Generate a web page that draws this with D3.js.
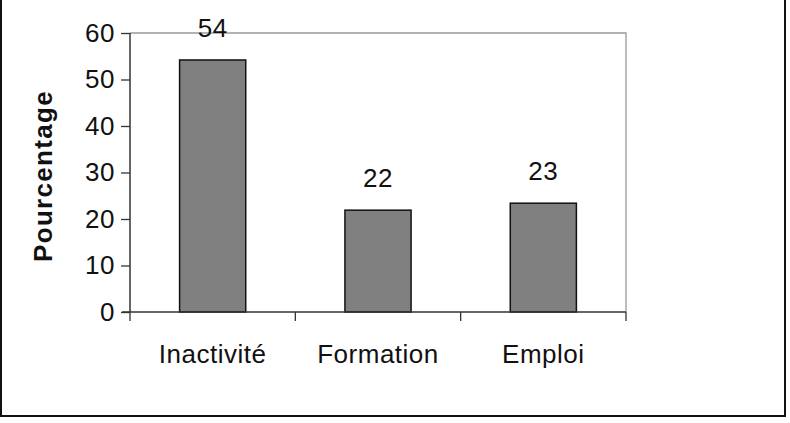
<!DOCTYPE html>
<html>
<head>
<meta charset="utf-8">
<script src="https://cdn.jsdelivr.net/npm/d3@7"></script>
<style>
  body { margin: 0; background: #fff; }
  text { font-family: "Liberation Sans", Arial, sans-serif; }
</style>
</head>
<body>
<div id="chart-area"></div>
<script>
// data
var categories = ["Inactivité", "Formation", "Emploi"];
var values = [54.2, 21.9, 23.4];
var labels = ["54", "22", "23"];
var yTicks = [0, 10, 20, 30, 40, 50, 60];

var margin = {top: 33, right: 164, bottom: 111, left: 130};
var width = 790 - margin.left - margin.right,
    height = 423 - margin.top - margin.bottom;

var svg = d3.select("#chart-area")
    .append("svg")
    .attr("width", 790)
    .attr("height", 423);

// outer frame
svg.append("rect")
    .attr("x", 1)
    .attr("y", -4)
    .attr("width", 784)
    .attr("height", 420)
    .attr("fill", "none")
    .attr("stroke", "#111")
    .attr("stroke-width", 2);

var g = svg.append("g")
    .attr("transform", "translate(" + margin.left + "," + margin.top + ")");

var x = d3.scaleBand()
    .domain(categories)
    .range([0, width])
    .paddingInner(0.6)
    .paddingOuter(0.3);

var y = d3.scaleLinear()
    .domain([0, 60])
    .range([height, 0]);

// plot frame top / right
g.append("path")
    .attr("d", "M0,0H" + width + "V" + height)
    .attr("fill", "none")
    .attr("stroke", "#9a9a9a")
    .attr("stroke-width", 1.3);

// bars
g.selectAll(".bar")
    .data(values)
    .enter()
    .append("rect")
    .attr("class", "bar")
    .attr("x", function(d, i){ return x(categories[i]); })
    .attr("y", function(d){ return y(d); })
    .attr("width", x.bandwidth())
    .attr("height", function(d){ return height - y(d); })
    .attr("fill", "#808080")
    .attr("stroke", "#111")
    .attr("stroke-width", 1.5);

// value labels
g.selectAll(".val")
    .data(values)
    .enter()
    .append("text")
    .attr("class", "val")
    .attr("x", function(d, i){ return x(categories[i]) + x.bandwidth() / 2; })
    .attr("y", function(d){ return y(d) - 23; })
    .attr("text-anchor", "middle")
    .attr("font-size", "26px")
    .attr("letter-spacing", "0.5px")
    .attr("fill", "#111")
    .text(function(d, i){ return labels[i]; });

// y axis
var yAxisCall = d3.axisLeft(y)
    .tickValues(yTicks)
    .tickSize(9)
    .tickPadding(6);

var yAxisGroup = g.append("g")
    .attr("class", "y-axis")
    .call(yAxisCall);

yAxisGroup.select(".domain")
    .attr("d", "M0,0V" + height)
    .attr("stroke", "#333")
    .attr("stroke-width", 1.5);
yAxisGroup.selectAll("line").attr("stroke", "#333").attr("stroke-width", 1.3);
yAxisGroup.selectAll("text")
    .attr("font-size", "26px")
    .attr("letter-spacing", "0.5px")
    .attr("fill", "#111");

// x axis with ticks between categories
var xAxisGroup = g.append("g")
    .attr("class", "x-axis")
    .attr("transform", "translate(0," + height + ")");

xAxisGroup.append("line")
    .attr("x1", -8).attr("x2", width)
    .attr("stroke", "#333")
    .attr("stroke-width", 1.5);

var step = width / categories.length;
xAxisGroup.selectAll(".xtick")
    .data(d3.range(categories.length + 1))
    .enter()
    .append("line")
    .attr("class", "xtick")
    .attr("x1", function(d){ return d * step; })
    .attr("x2", function(d){ return d * step; })
    .attr("y1", 0)
    .attr("y2", 9)
    .attr("stroke", "#333")
    .attr("stroke-width", 1.3);

xAxisGroup.selectAll(".xlabel")
    .data(categories)
    .enter()
    .append("text")
    .attr("class", "xlabel")
    .attr("x", function(d){ return x(d) + x.bandwidth() / 2; })
    .attr("y", 51)
    .attr("text-anchor", "middle")
    .attr("font-size", "26px")
    .attr("letter-spacing", "0.5px")
    .attr("fill", "#111")
    .text(function(d){ return d; });

// y axis title
g.append("text")
    .attr("transform", "rotate(-90)")
    .attr("x", -(176 - margin.top))
    .attr("y", -78)
    .attr("text-anchor", "middle")
    .attr("font-size", "26px")
    .attr("font-weight", "bold")
    .attr("letter-spacing", "1.3px")
    .attr("fill", "#111")
    .text("Pourcentage");
</script>
</body>
</html>
